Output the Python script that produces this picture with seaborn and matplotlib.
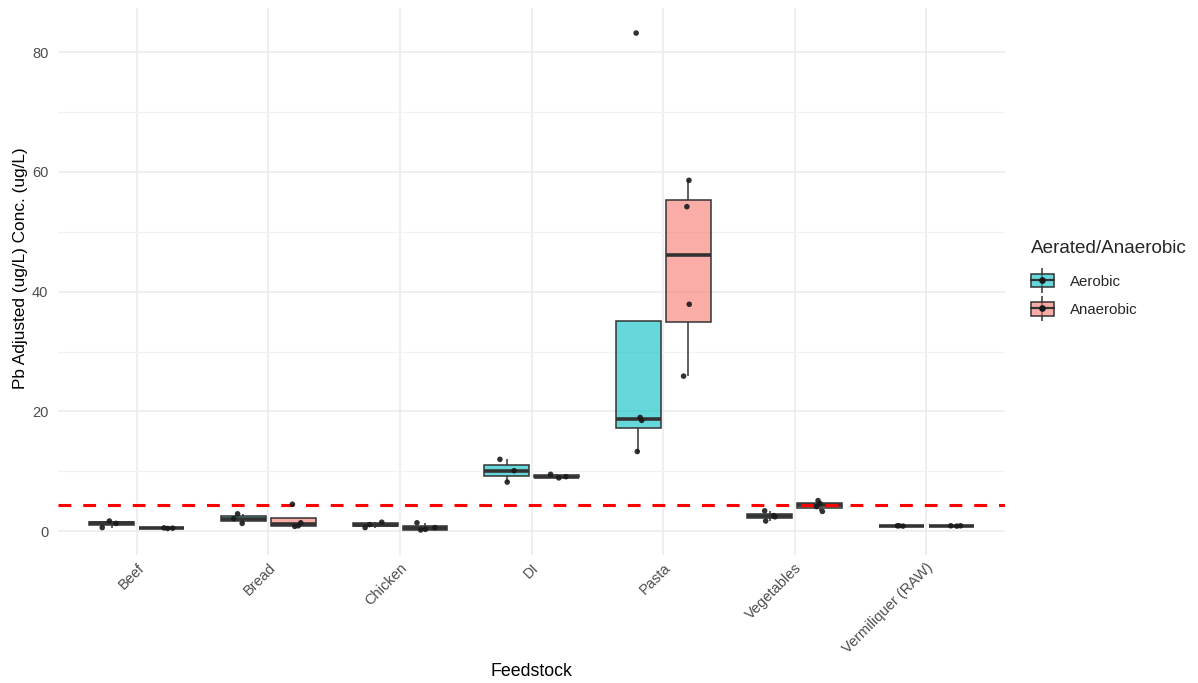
import numpy as np
import pandas as pd
import matplotlib
matplotlib.use("Agg")
import matplotlib.pyplot as plt
from matplotlib.lines import Line2D
from matplotlib.patches import Patch, PathPatch
from matplotlib.colors import to_rgba
from matplotlib.legend_handler import HandlerTuple
import seaborn as sns

# Feedstock categories and measured Pb concentrations (ug/L)
categories = ["Beef", "Bread", "Chicken", "DI", "Pasta", "Vegetables", "Vermiliquer (RAW)"]
aerobic_values = [
    [0.6, 1.3, 1.7],
    [1.3, 2.1, 2.9],
    [0.6, 1.1, 1.5],
    [8.2, 10.1, 12.0],
    [13.3, 18.5, 19.0, 83.2],
    [1.7, 2.4, 2.6, 3.4],
    [0.85, 0.9, 0.9],
]
anaerobic_values = [
    [0.45, 0.5, 0.55],
    [0.8, 0.9, 1.4, 4.5],
    [0.2, 0.3, 0.6, 1.4],
    [8.9, 9.1, 9.5],
    [25.9, 37.9, 54.2, 58.6],
    [3.3, 4.1, 4.6, 5.1],
    [0.85, 0.9, 0.9],
]
groups = ["Aerobic", "Anaerobic"]
threshold = 4.3

rows = []
for cat, a_vals, n_vals in zip(categories, aerobic_values, anaerobic_values):
    rows += [(cat, "Aerobic", v) for v in a_vals]
    rows += [(cat, "Anaerobic", v) for v in n_vals]
df = pd.DataFrame(rows, columns=["Feedstock", "Aerated/Anaerobic", "Pb"])

sns.set_theme(style="white")
plt.rcParams["font.family"] = ["Liberation Sans", "DejaVu Sans"]

palette = {"Aerobic": "#00BFC4", "Anaerobic": "#F8766D"}
edge = "#333333"
fill_alpha = 0.6

fig = plt.figure(figsize=(11.98, 6.83), dpi=100)
ax = fig.add_axes([0.0484, 0.1874, 0.839 - 0.0484, 0.988 - 0.1874])

sns.boxplot(
    data=df, x="Feedstock", y="Pb", hue="Aerated/Anaerobic",
    order=categories, hue_order=groups, palette=palette, saturation=1,
    width=0.76, gap=0.1, showfliers=False, linewidth=1.1, linecolor=edge,
    medianprops=dict(color=edge, linewidth=2.6),
    whiskerprops=dict(color=edge), capprops=dict(visible=False),
    legend=False, ax=ax,
)
# translucent fill only, solid outlines
for p in ax.patches:
    if isinstance(p, PathPatch):
        p.set_facecolor(to_rgba(p.get_facecolor(), fill_alpha))
        p.set_edgecolor(edge)

np.random.seed(7)
sns.stripplot(
    data=df, x="Feedstock", y="Pb", hue="Aerated/Anaerobic",
    order=categories, hue_order=groups, dodge=True, jitter=0.15,
    palette={g: "#1a1a1a" for g in groups}, size=4.0, alpha=0.9,
    linewidth=0, legend=False, ax=ax, zorder=5,
)

ax.axhline(threshold, color="red", linewidth=2.2, linestyle=(0, (4.2, 3.9)), zorder=4)

ax.set_xlim(-0.6, len(categories) - 0.4)
ax.set_ylim(-3.98, 87.35)
ax.set_yticks([0, 20, 40, 60, 80])
ax.set_yticks([10, 30, 50, 70], minor=True)

# Grid (minimal theme look)
ax.set_axisbelow(True)
ax.grid(True, which="major", axis="x", color="#EBEBEB", linewidth=1.1)
ax.grid(True, which="major", axis="y", color="#EBEBEB", linewidth=1.1)
ax.grid(True, which="minor", axis="y", color="#F2F2F2", linewidth=0.9)

for s in ax.spines.values():
    s.set_visible(False)
ax.tick_params(axis="both", which="both", length=0, colors="#4D4D4D", labelsize=10.5)
ax.tick_params(axis="y", pad=7)
ax.tick_params(axis="x", pad=4)
plt.setp(ax.get_xticklabels(), rotation=45, ha="right", va="top", rotation_mode="anchor")

ax.set_xlabel("Feedstock", fontsize=12.8, color="black", labelpad=5)
ax.set_ylabel("Pb Adjusted (ug/L) Conc. (ug/L)", fontsize=12.4, color="black")
ax.yaxis.set_label_coords(-0.0317, 0.525)

# Legend with boxplot-style keys
handles = []
for g in groups:
    whisk = Line2D([], [], marker="|", markersize=18, color=edge, linestyle="none", markeredgewidth=1.1)
    box = Patch(facecolor=to_rgba(palette[g], fill_alpha), edgecolor=edge, linewidth=1.1)
    med = Line2D([], [], color=edge, linewidth=1.6)
    dot = Line2D([], [], marker="o", markersize=3.8, color="#1a1a1a", linestyle="none")
    handles.append((whisk, box, med, dot))
leg = fig.legend(
    handles, groups, title="Aerated/Anaerobic",
    handler_map={tuple: HandlerTuple(ndivide=1, pad=0)},
    loc="upper left", bbox_to_anchor=(0.849, 0.668), frameon=False,
    fontsize=10.8, title_fontsize=13.6, handlelength=1.54, handleheight=1.0,
    labelspacing=0.9, handletextpad=1.1, alignment="left",
)
leg._legend_box.sep = 12.0

fig.savefig("out.png", dpi=100, facecolor="white")
